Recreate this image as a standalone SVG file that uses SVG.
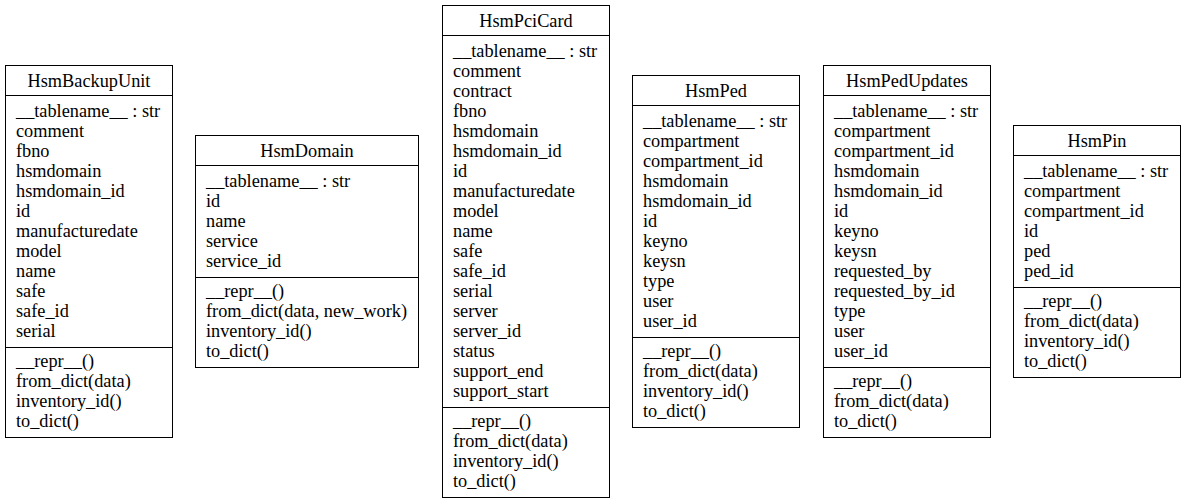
<svg xmlns="http://www.w3.org/2000/svg" width="1187" height="504" viewBox="0 0 1187 504">
  <style>
    .box { fill: #ffffff; stroke: #000000; stroke-width: 1; }
    .sep { stroke: #000000; stroke-width: 1; }
    .title { text-anchor: middle; }
  </style>
  <rect x="0" y="0" width="1187" height="504" fill="#ffffff"/>

  <g font-family="Liberation Serif, serif" font-size="18.3" fill="#000000">
  <!-- HsmBackupUnit -->
  <g id="HsmBackupUnit">
    <rect class="box" x="5.5" y="65.5" width="167" height="372"/>
    <line class="sep" x1="5.5" y1="95.5" x2="172.5" y2="95.5"/>
    <line class="sep" x1="5.5" y1="347.5" x2="172.5" y2="347.5"/>
    <text class="title" x="89" y="86.5">HsmBackupUnit</text>
    <text x="16">
      <tspan x="16" y="116.5">__tablename__ : str</tspan>
      <tspan x="16" y="136.5">comment</tspan>
      <tspan x="16" y="156.5">fbno</tspan>
      <tspan x="16" y="176.5">hsmdomain</tspan>
      <tspan x="16" y="196.5">hsmdomain_id</tspan>
      <tspan x="16" y="216.5">id</tspan>
      <tspan x="16" y="236.5">manufacturedate</tspan>
      <tspan x="16" y="256.5">model</tspan>
      <tspan x="16" y="276.5">name</tspan>
      <tspan x="16" y="296.5">safe</tspan>
      <tspan x="16" y="316.5">safe_id</tspan>
      <tspan x="16" y="336.5">serial</tspan>
    </text>
    <text x="16">
      <tspan x="16" y="367">__repr__()</tspan>
      <tspan x="16" y="387">from_dict(data)</tspan>
      <tspan x="16" y="407">inventory_id()</tspan>
      <tspan x="16" y="427">to_dict()</tspan>
    </text>
  </g>

  <!-- HsmDomain -->
  <g id="HsmDomain">
    <rect class="box" x="195.5" y="135.5" width="223" height="232"/>
    <line class="sep" x1="195.5" y1="165.5" x2="418.5" y2="165.5"/>
    <line class="sep" x1="195.5" y1="277.5" x2="418.5" y2="277.5"/>
    <text class="title" x="307" y="156.5">HsmDomain</text>
    <text x="206">
      <tspan x="206" y="186.5">__tablename__ : str</tspan>
      <tspan x="206" y="206.5">id</tspan>
      <tspan x="206" y="226.5">name</tspan>
      <tspan x="206" y="246.5">service</tspan>
      <tspan x="206" y="266.5">service_id</tspan>
    </text>
    <text x="206">
      <tspan x="206" y="297">__repr__()</tspan>
      <tspan x="206" y="317">from_dict(data, new_work)</tspan>
      <tspan x="206" y="337">inventory_id()</tspan>
      <tspan x="206" y="357">to_dict()</tspan>
    </text>
  </g>

  <!-- HsmPciCard -->
  <g id="HsmPciCard">
    <rect class="box" x="442.5" y="5.5" width="167" height="492"/>
    <line class="sep" x1="442.5" y1="35.5" x2="609.5" y2="35.5"/>
    <line class="sep" x1="442.5" y1="407.5" x2="609.5" y2="407.5"/>
    <text class="title" x="526" y="26.5">HsmPciCard</text>
    <text x="453">
      <tspan x="453" y="56.5">__tablename__ : str</tspan>
      <tspan x="453" y="76.5">comment</tspan>
      <tspan x="453" y="96.5">contract</tspan>
      <tspan x="453" y="116.5">fbno</tspan>
      <tspan x="453" y="136.5">hsmdomain</tspan>
      <tspan x="453" y="156.5">hsmdomain_id</tspan>
      <tspan x="453" y="176.5">id</tspan>
      <tspan x="453" y="196.5">manufacturedate</tspan>
      <tspan x="453" y="216.5">model</tspan>
      <tspan x="453" y="236.5">name</tspan>
      <tspan x="453" y="256.5">safe</tspan>
      <tspan x="453" y="276.5">safe_id</tspan>
      <tspan x="453" y="296.5">serial</tspan>
      <tspan x="453" y="316.5">server</tspan>
      <tspan x="453" y="336.5">server_id</tspan>
      <tspan x="453" y="356.5">status</tspan>
      <tspan x="453" y="376.5">support_end</tspan>
      <tspan x="453" y="396.5">support_start</tspan>
    </text>
    <text x="453">
      <tspan x="453" y="427">__repr__()</tspan>
      <tspan x="453" y="447">from_dict(data)</tspan>
      <tspan x="453" y="467">inventory_id()</tspan>
      <tspan x="453" y="487">to_dict()</tspan>
    </text>
  </g>

  <!-- HsmPed -->
  <g id="HsmPed">
    <rect class="box" x="632.5" y="75.5" width="167" height="352"/>
    <line class="sep" x1="632.5" y1="105.5" x2="799.5" y2="105.5"/>
    <line class="sep" x1="632.5" y1="337.5" x2="799.5" y2="337.5"/>
    <text class="title" x="716" y="96.5">HsmPed</text>
    <text x="643">
      <tspan x="643" y="126.5">__tablename__ : str</tspan>
      <tspan x="643" y="146.5">compartment</tspan>
      <tspan x="643" y="166.5">compartment_id</tspan>
      <tspan x="643" y="186.5">hsmdomain</tspan>
      <tspan x="643" y="206.5">hsmdomain_id</tspan>
      <tspan x="643" y="226.5">id</tspan>
      <tspan x="643" y="246.5">keyno</tspan>
      <tspan x="643" y="266.5">keysn</tspan>
      <tspan x="643" y="286.5">type</tspan>
      <tspan x="643" y="306.5">user</tspan>
      <tspan x="643" y="326.5">user_id</tspan>
    </text>
    <text x="643">
      <tspan x="643" y="357">__repr__()</tspan>
      <tspan x="643" y="377">from_dict(data)</tspan>
      <tspan x="643" y="397">inventory_id()</tspan>
      <tspan x="643" y="417">to_dict()</tspan>
    </text>
  </g>

  <!-- HsmPedUpdates -->
  <g id="HsmPedUpdates">
    <rect class="box" x="823.5" y="65.5" width="167" height="372"/>
    <line class="sep" x1="823.5" y1="95.5" x2="990.5" y2="95.5"/>
    <line class="sep" x1="823.5" y1="367.5" x2="990.5" y2="367.5"/>
    <text class="title" x="907" y="86.5">HsmPedUpdates</text>
    <text x="834">
      <tspan x="834" y="116.5">__tablename__ : str</tspan>
      <tspan x="834" y="136.5">compartment</tspan>
      <tspan x="834" y="156.5">compartment_id</tspan>
      <tspan x="834" y="176.5">hsmdomain</tspan>
      <tspan x="834" y="196.5">hsmdomain_id</tspan>
      <tspan x="834" y="216.5">id</tspan>
      <tspan x="834" y="236.5">keyno</tspan>
      <tspan x="834" y="256.5">keysn</tspan>
      <tspan x="834" y="276.5">requested_by</tspan>
      <tspan x="834" y="296.5">requested_by_id</tspan>
      <tspan x="834" y="316.5">type</tspan>
      <tspan x="834" y="336.5">user</tspan>
      <tspan x="834" y="356.5">user_id</tspan>
    </text>
    <text x="834">
      <tspan x="834" y="387">__repr__()</tspan>
      <tspan x="834" y="407">from_dict(data)</tspan>
      <tspan x="834" y="427">to_dict()</tspan>
    </text>
  </g>

  <!-- HsmPin -->
  <g id="HsmPin">
    <rect class="box" x="1013.5" y="125.5" width="167" height="252"/>
    <line class="sep" x1="1013.5" y1="155.5" x2="1180.5" y2="155.5"/>
    <line class="sep" x1="1013.5" y1="287.5" x2="1180.5" y2="287.5"/>
    <text class="title" x="1097" y="146.5">HsmPin</text>
    <text x="1024">
      <tspan x="1024" y="176.5">__tablename__ : str</tspan>
      <tspan x="1024" y="196.5">compartment</tspan>
      <tspan x="1024" y="216.5">compartment_id</tspan>
      <tspan x="1024" y="236.5">id</tspan>
      <tspan x="1024" y="256.5">ped</tspan>
      <tspan x="1024" y="276.5">ped_id</tspan>
    </text>
    <text x="1024">
      <tspan x="1024" y="307">__repr__()</tspan>
      <tspan x="1024" y="327">from_dict(data)</tspan>
      <tspan x="1024" y="347">inventory_id()</tspan>
      <tspan x="1024" y="367">to_dict()</tspan>
    </text>
  </g>
  </g>

  <!-- no associations between these classes -->
  <g id="connectors"/>
</svg>
